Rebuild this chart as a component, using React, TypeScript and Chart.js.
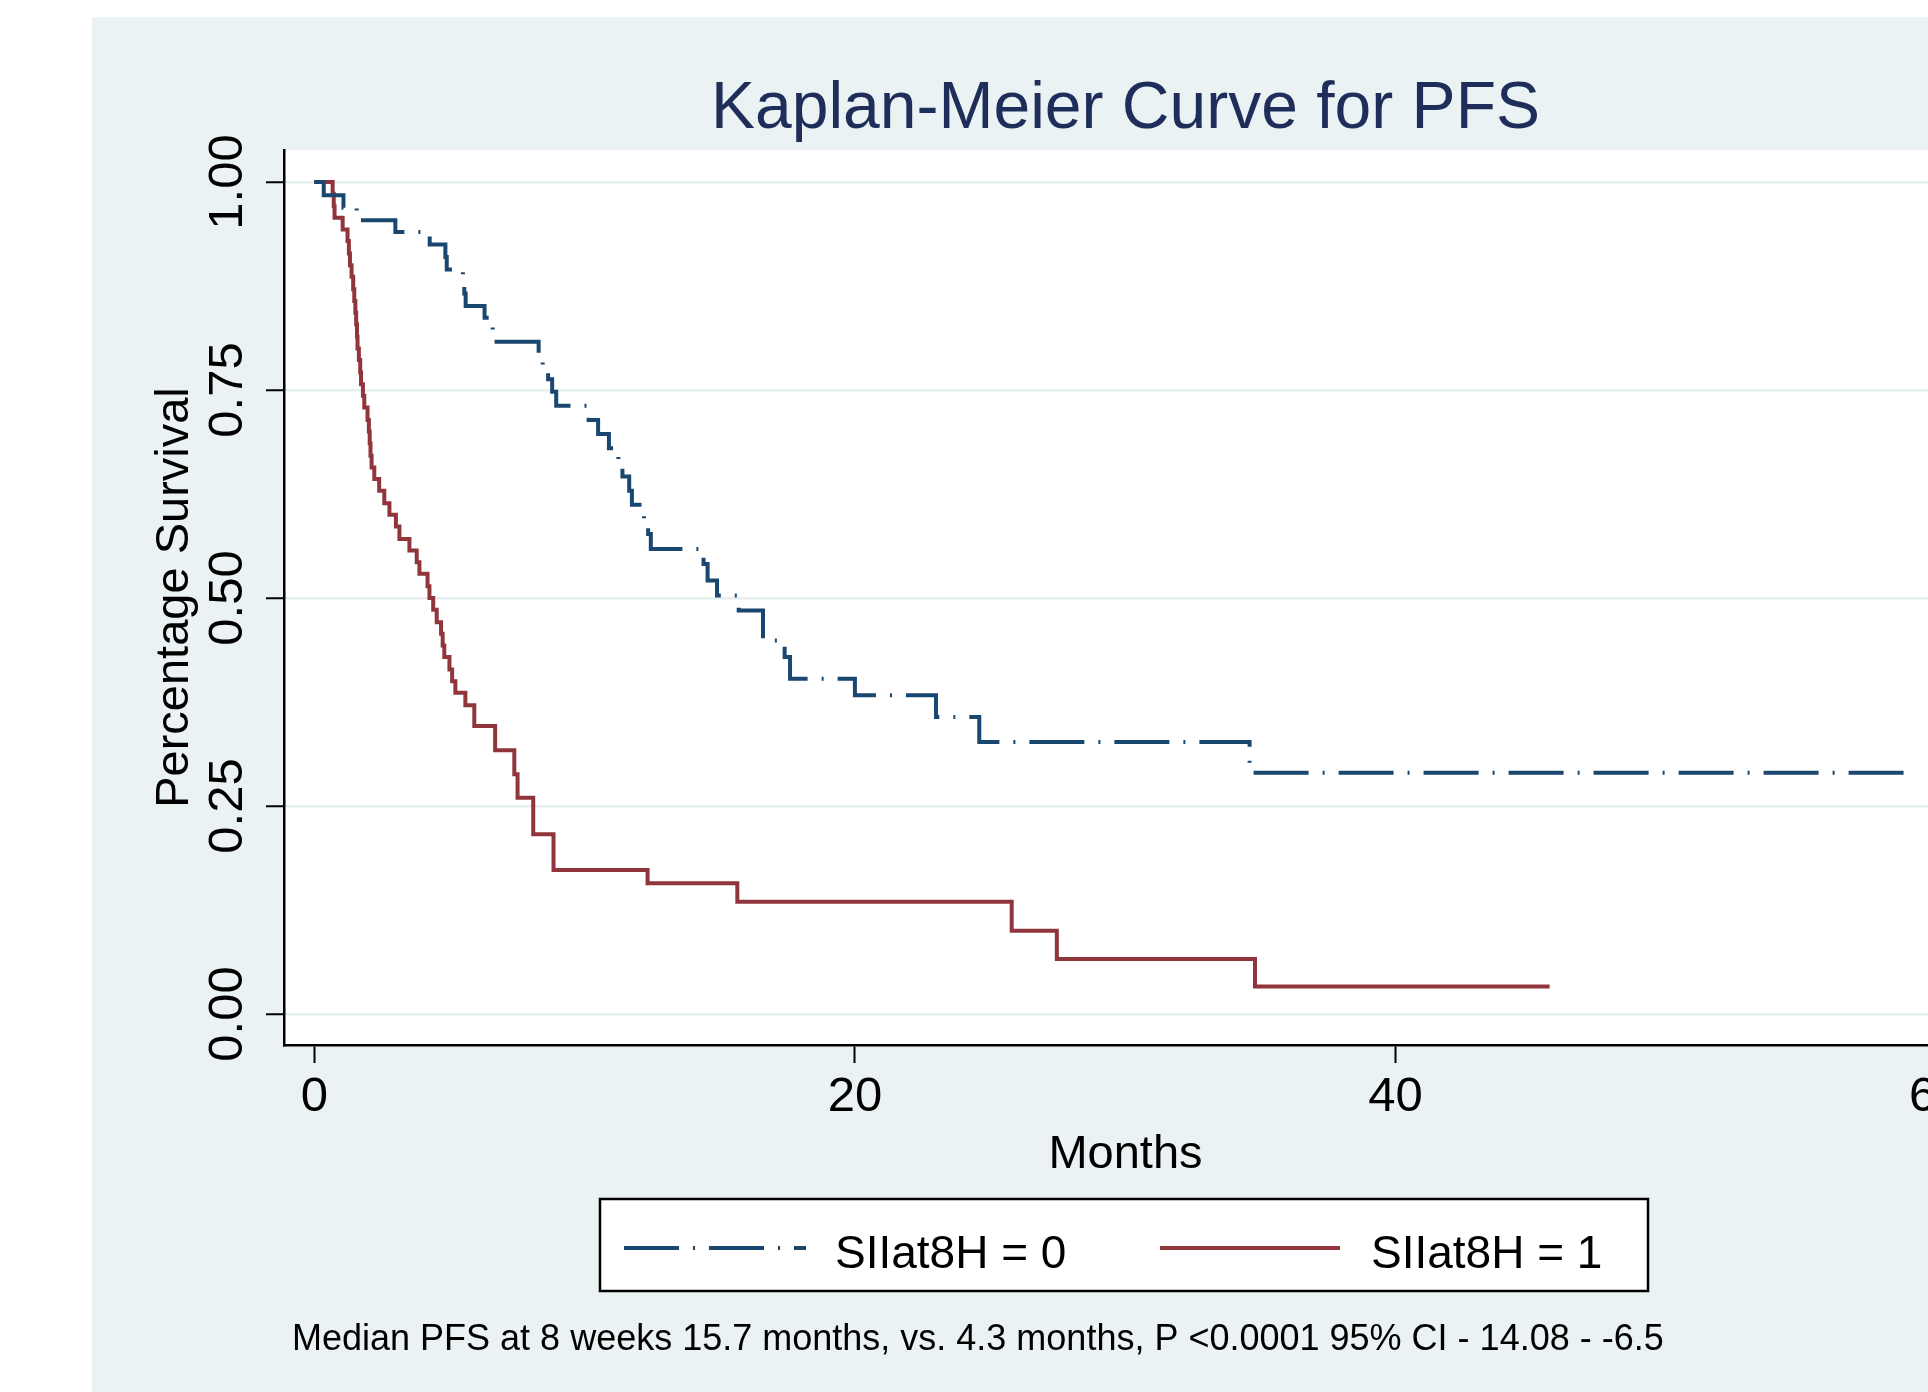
import React, { useEffect, useRef } from "react";
import { Chart, registerables } from "chart.js";

Chart.register(...registerables);

// ---------- text ----------
const TITLE = "Kaplan-Meier Curve for PFS";
const X_TITLE = "Months";
const Y_TITLE = "Percentage Survival";
const SERIES_NAMES = ["SIIat8H = 0", "SIIat8H = 1"];
const NOTE =
  "Median PFS at 8 weeks 15.7 months, vs. 4.3 months, P <0.0001 95% CI - 14.08 - -6.5";

// ---------- ticks ----------
const X_TICKS = [0, 20, 40, 60];
const Y_TICKS = [0, 0.25, 0.5, 0.75, 1];

// ---------- series: SIIat8H = 0 (event time in months, survival after the step) ----------
const group0Months = [
  0, 0.35, 1.08, 1.57, 3.0, 4.27, 4.85, 4.9, 5.5, 5.55, 5.6, 6.3, 6.6, 6.65,
  8.3, 8.45, 8.65, 8.8, 8.95, 10.15, 10.5, 10.9, 11.25, 11.4, 11.65, 11.75,
  12.2, 12.35, 12.45, 14.4, 14.55, 14.9, 15.7, 16.6, 17.4, 17.6, 20.0, 23.0,
  24.6, 34.6, 58.8,
];
const group0Survival = [
  1.0, 0.984, 0.969, 0.954, 0.94, 0.925, 0.91, 0.895, 0.88, 0.866, 0.851,
  0.837, 0.822, 0.808, 0.793, 0.778, 0.763, 0.748, 0.731, 0.714, 0.697, 0.68,
  0.663, 0.646, 0.629, 0.612, 0.594, 0.577, 0.559, 0.541, 0.521, 0.503, 0.485,
  0.449, 0.429, 0.403, 0.383, 0.357, 0.327, 0.29, 0.29,
];

// ---------- series: SIIat8H = 1 ----------
const group1Months = [
  0, 0.68, 0.72, 0.75, 1.05, 1.23, 1.28, 1.32, 1.38, 1.44, 1.48, 1.52, 1.55,
  1.58, 1.6, 1.65, 1.7, 1.73, 1.8, 1.85, 1.97, 2.02, 2.05, 2.08, 2.12, 2.22,
  2.4, 2.59, 2.78, 3.02, 3.15, 3.52, 3.79, 3.89, 4.19, 4.26, 4.4, 4.53, 4.69,
  4.75, 4.81, 5.0, 5.1, 5.22, 5.59, 5.92, 6.69, 7.4, 7.52, 8.1, 8.85, 12.33,
  15.65, 25.8, 27.47, 34.8, 45.7,
];
const group1Survival = [
  1.0, 0.986, 0.971, 0.957, 0.943, 0.929, 0.914, 0.9, 0.886, 0.871, 0.857,
  0.843, 0.829, 0.814, 0.8, 0.786, 0.771, 0.757, 0.743, 0.729, 0.714, 0.7,
  0.686, 0.671, 0.657, 0.643, 0.629, 0.614, 0.6, 0.586, 0.571, 0.557, 0.543,
  0.529, 0.514, 0.5, 0.486, 0.471, 0.457, 0.443, 0.429, 0.414, 0.4, 0.386,
  0.371, 0.346, 0.317, 0.288, 0.26, 0.216, 0.173, 0.157, 0.135, 0.1, 0.066,
  0.033, 0.033,
];

// ---------- styling ----------
const FONT = '"Liberation Sans", Arial, Helvetica, sans-serif';
const BG = "#eaf2f3";
const GRID = "#e6eef0";
const BLUE = "rgb(26,71,111)";
const RED = "rgb(144,53,59)";
const TITLE_COLOR = "#1e2d5a";
const BLUE_DASH = [55, 14, 2, 14];
const LINE_W = 4;

const CANVAS_W = 2050;
const CANVAS_H = 1392;

const X_MIN = -1.12;
const X_MAX = 61.14;
const Y_MIN = -0.0373;
const Y_MAX = 1.0385;

const decorPlugin = {
  id: "stataDecor",
  beforeDraw(chart: any) {
    const { ctx, chartArea, width, height } = chart;
    ctx.save();
    ctx.fillStyle = "#ffffff";
    ctx.fillRect(0, 0, width, height);
    ctx.fillStyle = BG;
    ctx.fillRect(92, 17, width - 92, height - 17);
    ctx.fillStyle = "#ffffff";
    ctx.fillRect(
      chartArea.left,
      chartArea.top,
      chartArea.right - chartArea.left,
      chartArea.bottom - chartArea.top
    );
    ctx.restore();
  },
  afterDraw(chart: any) {
    const { ctx } = chart;
    ctx.save();
    // legend box
    const bx = 600, by = 1199, bw = 1048, bh = 92;
    ctx.fillStyle = "#ffffff";
    ctx.fillRect(bx, by, bw, bh);
    ctx.strokeStyle = "#000000";
    ctx.lineWidth = 2.5;
    ctx.setLineDash([]);
    ctx.strokeRect(bx, by, bw, bh);
    // samples
    const ly = 1248;
    ctx.lineCap = "butt";
    ctx.lineWidth = LINE_W;
    ctx.strokeStyle = BLUE;
    ctx.setLineDash(BLUE_DASH);
    ctx.beginPath();
    ctx.moveTo(624, ly);
    ctx.lineTo(806, ly);
    ctx.stroke();
    ctx.setLineDash([]);
    ctx.strokeStyle = RED;
    ctx.beginPath();
    ctx.moveTo(1160, ly);
    ctx.lineTo(1340, ly);
    ctx.stroke();
    // legend text
    ctx.fillStyle = "#000000";
    ctx.textBaseline = "middle";
    ctx.textAlign = "left";
    ctx.font = `46px ${FONT}`;
    ctx.fillText(SERIES_NAMES[0], 835, 1255);
    ctx.fillText(SERIES_NAMES[1], 1371, 1255);
    // note
    ctx.font = `36px ${FONT}`;
    ctx.fillText(NOTE, 292, 1340);
    ctx.restore();
  },
};

export default function App() {
  const canvasRef = useRef<HTMLCanvasElement | null>(null);

  useEffect(() => {
    if (!canvasRef.current) return;
    const data0 = group0Months.map((m, i) => ({ x: m, y: group0Survival[i] }));
    const data1 = group1Months.map((m, i) => ({ x: m, y: group1Survival[i] }));

    const chart = new Chart(canvasRef.current, {
      type: "line",
      data: {
        datasets: [
          {
            label: SERIES_NAMES[0],
            data: data0,
            borderColor: BLUE,
            backgroundColor: BLUE,
            borderWidth: LINE_W,
            borderDash: BLUE_DASH,
            borderCapStyle: "butt",
            stepped: "before",
            pointRadius: 0,
            fill: false,
            tension: 0,
          },
          {
            label: SERIES_NAMES[1],
            data: data1,
            borderColor: RED,
            backgroundColor: RED,
            borderWidth: LINE_W,
            stepped: "before",
            pointRadius: 0,
            fill: false,
            tension: 0,
          },
        ],
      },
      options: {
        animation: false,
        responsive: false,
        maintainAspectRatio: false,
        devicePixelRatio: 1,
        layout: { padding: { left: 0, top: 0, right: CANVAS_W - 1967, bottom: 207 } },
        plugins: {
          legend: { display: false },
          tooltip: { enabled: false },
          title: {
            display: true,
            text: TITLE,
            color: TITLE_COLOR,
            font: { family: FONT, size: 66, weight: "normal" },
            padding: { top: 70.4, bottom: 0.4 },
            fullSize: false,
            align: "center",
          },
        },
        scales: {
          x: {
            type: "linear",
            min: X_MIN,
            max: X_MAX,
            afterBuildTicks: (s: any) => {
              s.ticks = X_TICKS.map((v) => ({ value: v }));
            },
            afterFit: (s: any) => {
              s.height = 140;
            },
            ticks: {
              autoSkip: false,
              minRotation: 0,
              maxRotation: 0,
              padding: 5,
              color: "#000",
              font: { family: FONT, size: 49 },
              callback: (v: any) => String(v),
            },
            grid: {
              drawOnChartArea: false,
              drawTicks: true,
              tickColor: "#000",
              tickWidth: 2,
              tickLength: 18,
            },
            border: { display: true, color: "#000", width: 2.5 },
            title: {
              display: true,
              text: X_TITLE,
              color: "#000",
              font: { family: FONT, size: 47 },
              padding: { top: 0, bottom: 1.8 },
            },
          },
          y: {
            type: "linear",
            min: Y_MIN,
            max: Y_MAX,
            afterBuildTicks: (s: any) => {
              s.ticks = Y_TICKS.map((v) => ({ value: v }));
            },
            afterFit: (s: any) => {
              s.width = 284;
            },
            ticks: {
              autoSkip: false,
              minRotation: 90,
              maxRotation: 90,
              crossAlign: "center",
              padding: -9.7,
              color: "#000",
              font: { family: FONT, size: 49 },
              callback: (v: any) => Number(v).toFixed(2),
            },
            grid: {
              drawOnChartArea: true,
              color: GRID,
              lineWidth: 2.5,
              drawTicks: true,
              tickColor: "#000",
              tickWidth: 2,
              tickLength: 18,
            },
            border: { display: true, color: "#000", width: 2.5 },
            title: {
              display: true,
              text: Y_TITLE,
              color: "#000",
              font: { family: FONT, size: 47 },
              padding: { top: 147, bottom: 0 },
            },
          },
        },
      },
      plugins: [decorPlugin],
    } as any);

    return () => {
      chart.destroy();
    };
  }, []);

  return (
    <div
      style={{
        position: "fixed",
        left: 0,
        top: 0,
        width: 1928,
        height: 1392,
        overflow: "hidden",
        background: "#ffffff",
      }}
    >
      <canvas
        ref={canvasRef}
        width={CANVAS_W}
        height={CANVAS_H}
        style={{ display: "block", width: CANVAS_W, height: CANVAS_H }}
      />
    </div>
  );
}
